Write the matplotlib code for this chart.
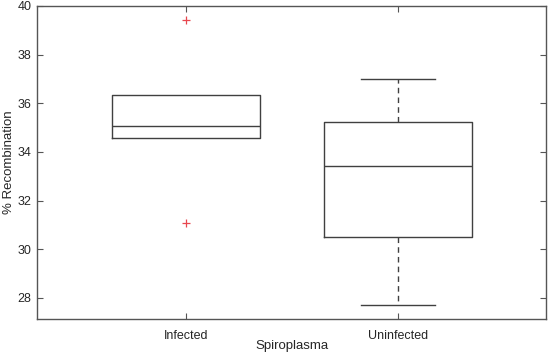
import matplotlib
matplotlib.use("Agg")
import matplotlib.pyplot as plt

categories = ["Infected", "Uninfected"]
q1 = [34.59, 30.51]
medians = [35.06, 33.43]
q3 = [36.32, 35.25]
whisk_lo = [34.59, 27.71]
whisk_hi = [36.32, 37.00]
outliers = [[39.43, 31.07], []]
yticks = [28, 30, 32, 34, 36, 38, 40]

plt.rcParams['font.family'] = ['Liberation Sans', 'DejaVu Sans']

fig = plt.figure(figsize=(5.5, 3.58), dpi=100)
ax_l, ax_r, ax_t, ax_b = 37, 546, 6, 319
ax = fig.add_axes([ax_l/550, 1-ax_b/358, (ax_r-ax_l)/550, (ax_b-ax_t)/358])

stats = []
for i, c in enumerate(categories):
    stats.append(dict(label=c, med=medians[i], q1=q1[i], q3=q3[i],
                      whislo=whisk_lo[i], whishi=whisk_hi[i], fliers=outliers[i]))

lc = '#404040'
res = ax.bxp(stats, positions=[1, 2], widths=0.70, showfliers=True,
             boxprops=dict(color=lc, linewidth=1.0),
             medianprops=dict(color=lc, linewidth=1.0),
             whiskerprops=dict(color=lc, linewidth=1.0, linestyle=(0, (4, 3))),
             capprops=dict(color=lc, linewidth=1.0),
             capwidths=0.35,
             flierprops=dict(marker='+', markeredgecolor='#e8474f', markersize=6,
                             markeredgewidth=0.9, linestyle='none'))

# hide caps of zero-length whiskers (they coincide with the box edges)
for i in range(len(categories)):
    if whisk_lo[i] == q1[i]:
        res['caps'][2*i].set_visible(False)
    if whisk_hi[i] == q3[i]:
        res['caps'][2*i+1].set_visible(False)

ax.set_xlim(0.297, 2.70)
ax.set_ylim(27.13, 40.0)
ax.set_yticks(yticks)
ax.set_xticks([1, 2])
ax.set_xticklabels(categories)

for s in ax.spines.values():
    s.set_color('#555555')
    s.set_linewidth(1.0)
ax.tick_params(direction='in', top=True, right=True, length=4, width=0.8,
               color='#555555', labelsize=9, labelcolor='#262626', pad=4)
ax.tick_params(axis='x', pad=8)

ax.set_xlabel('Spiroplasma', fontsize=9.5, color='#262626')
ax.set_ylabel('% Recombination', fontsize=9.5, color='#262626')
ax.xaxis.set_label_coords(0.5, (ax_b-346)/(ax_b-ax_t))
ax.xaxis.label.set_va('center')
ax.yaxis.set_label_coords((9-ax_l)/(ax_r-ax_l), 0.5)
ax.yaxis.label.set_va('center')

fig.savefig('out.png', dpi=100)
